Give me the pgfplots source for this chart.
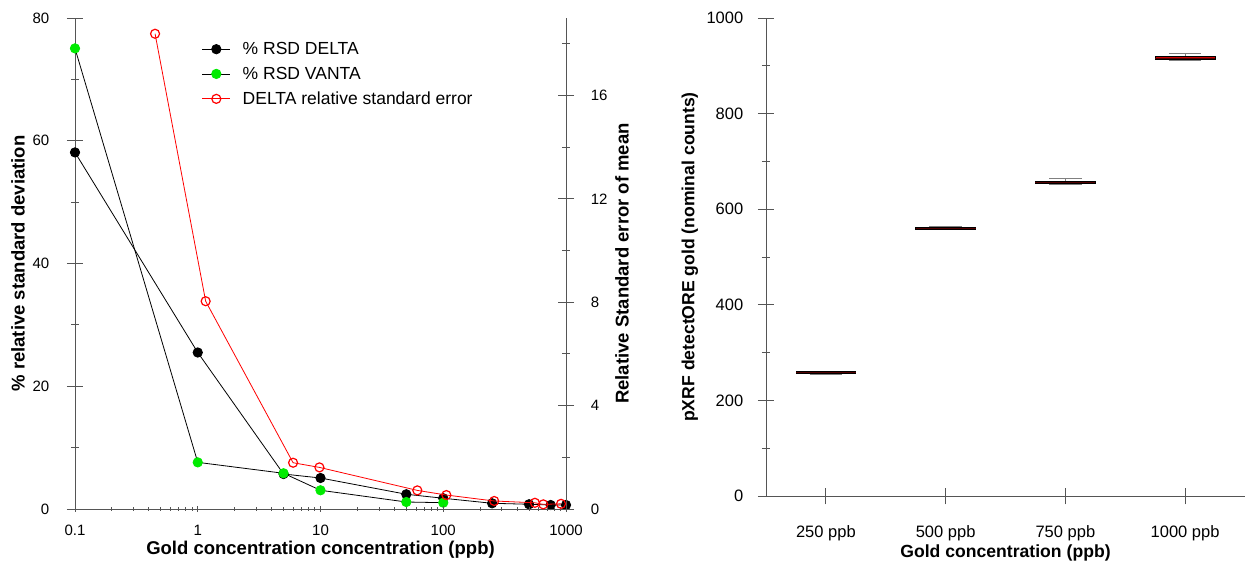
\documentclass[border=0pt]{standalone}
\usepackage{fontspec}
\setmainfont{Liberation Sans}
\usepackage{pgfplots}
\pgfplotsset{compat=1.18}
\usepgfplotslibrary{statistics}
\definecolor{vgreen}{RGB}{0,235,0}
\definecolor{axgray}{RGB}{85,85,85}
\definecolor{boxred}{RGB}{205,0,0}
\pgfplotsset{
  base/.style={
    scale only axis,
    /pgf/number format/assume math mode=true,
    /pgf/number format/1000 sep={},
    scaled ticks=false,
    tick style={axgray, line width=0.9pt},
    tick align=outside,
  },
  nodash/.style={
    axis line style={-, axgray, line width=0.9pt},
    every outer x axis line/.append style={-},
    every outer y axis line/.append style={-},
    every inner x axis line/.append style={-},
    every inner y axis line/.append style={-},
  },
}
\newcommand{\lefttick}{\fontsize{15}{17}\selectfont}
\newcommand{\righttick}{\fontsize{16.5}{19}\selectfont}
\newcommand{\lefttitle}{\fontsize{18.5}{21}\selectfont\bfseries}
\newcommand{\righttitle}{\fontsize{17.6}{20}\selectfont\bfseries}
\begin{document}
\begin{tikzpicture}
\useasboundingbox (0,0) rectangle (1245pt,562pt);
% ---- left chart: left y axis with DELTA and VANTA RSD
\begin{axis}[base, at={(75pt,53pt)}, anchor=south west,
  width=491pt, height=491pt,
  xmode=log, xmin=0.1, xmax=1000, ymin=0, ymax=80,
  axis y line=left, axis x line=none,
  ytick={0,20,40,60,80}, minor ytick={10,30,50,70},
  major tick length=16.5pt, minor tick length=8pt,
  yticklabel style={font=\lefttick, black, xshift=-14pt},
  every axis y label/.style={at={(axis description cs:-0.116,0.5)}, rotate=90, anchor=center, font=\lefttitle, black},
  ylabel={\% relative standard deviation},
  clip=false,
  legend style={at={(rel axis cs:0.252,0.959)}, anchor=north west,
    draw=none, fill=none, font=\fontsize{17.5}{20}\selectfont,
    row sep=7pt, cells={anchor=west}},
  legend image code/.code={\draw[mark repeat=2,mark phase=2,#1] plot coordinates {(0pt,0pt) (14pt,0pt) (28pt,0pt)}; \path (38pt,0pt);},
  nodash]
\addplot[black, line width=0.8pt, mark=*, mark size=4.7pt, mark options={fill=black, draw=black}]
  coordinates {(0.1,58.1) (1,25.5) (5,5.7) (10,5.05) (50,2.4) (100,1.75) (250,0.93) (500,0.77) (750,0.65) (1000,0.65)};
\addlegendentry{\% RSD DELTA}
\addplot[black, line width=0.8pt, mark=*, mark size=4.7pt, mark options={fill=vgreen, draw=vgreen}]
  coordinates {(0.1,75.05) (1,7.6) (5,5.82) (10,3.05) (50,1.14) (100,1.03)};
\addlegendentry{\% RSD VANTA}
\addlegendimage{red, line width=0.8pt, mark=o, mark size=4.5pt, mark options={line width=1.2pt}}
\addlegendentry{DELTA relative standard error}
\end{axis}
% ---- left chart: bottom log x axis
\begin{axis}[base, at={(75pt,53pt)}, anchor=south west,
  width=491pt, height=491pt,
  xmode=log, xmin=0.1, xmax=1000, ymin=0, ymax=80,
  axis x line=bottom, axis y line=none,
  xtick={0.1,1,10,100,1000}, xticklabels={0.1,1,10,100,1000},
  minor xtick={0.2,0.3,0.4,0.5,0.6,0.7,0.8,0.9,2,3,4,5,6,7,8,9,20,30,40,50,60,70,80,90,200,300,400,500,600,700,800,900},
  major tick length=5.5pt, minor tick length=3.3pt,
  xticklabel style={font=\lefttick, black, yshift=-9.5pt},
  every axis x label/.style={at={(axis description cs:0.5,-0.0835)}, anchor=center, font=\lefttitle, black},
  xlabel={Gold concentration concentration (ppb)},
  nodash]
\end{axis}
% ---- left chart: right y axis with DELTA relative standard error
\begin{axis}[base, at={(75pt,53pt)}, anchor=south west,
  width=491pt, height=491pt,
  xmode=log, xmin=0.1, xmax=1000, ymin=0, ymax=19,
  axis y line=right, axis x line=none,
  ytick={0,4,8,12,16}, minor ytick={2,6,10,14,18},
  major tick length=16.5pt, minor tick length=8pt,
  yticklabel style={font=\lefttick, black, xshift=13pt},
  every axis y label/.style={at={(axis description cs:1.114,0.5)}, rotate=90, anchor=center, font=\lefttitle, black},
  ylabel={Relative Standard error of mean},
  clip=false,
  nodash]
\addplot[red, line width=0.8pt, mark=o, mark size=4.5pt, mark options={line width=1.2pt}]
  coordinates {(0.449,18.39) (1.16,8.04) (5.98,1.79) (9.8,1.61) (61.5,0.72) (106,0.54) (260,0.31) (558,0.24) (653,0.18) (911,0.2)};
\end{axis}
% ---- right chart: box plots
\begin{axis}[base, at={(766pt,66pt)}, anchor=south west,
  width=479pt, height=478pt,
  xmin=0.5, xmax=4.5, ymin=0, ymax=1000,
  axis x line=bottom, axis y line=left,
  xtick={1,2,3,4}, xticklabels={250 ppb,500 ppb,750 ppb,1000 ppb},
  ytick={0,200,400,600,800,1000}, minor ytick={100,300,500,700,900},
  major tick length=16.5pt, minor tick length=8.5pt,
  xticklabel style={font=\righttick, black, yshift=-18pt},
  yticklabel style={font=\righttick, black, xshift=-11pt},
  every axis x label/.style={at={(axis description cs:0.5,-0.12)}, anchor=center, font=\righttitle, black},
  every axis y label/.style={at={(axis description cs:-0.1587,0.5)}, rotate=90, anchor=center, font=\righttitle, black},
  xlabel={Gold concentration (ppb)},
  ylabel={pXRF detectORE gold (nominal counts)},
  boxplot/draw direction=y,
  boxplot/every box/.style={draw=black, fill=boxred, line width=0.8pt},
  boxplot/every whisker/.style={draw=gray, line width=0.9pt},
  boxplot/every median/.style={draw=black!60!boxred, line width=0.8pt},
  nodash]
\addplot[boxplot prepared={draw position=1, lower whisker=254.5, lower quartile=257.5, median=259, upper quartile=260.5, upper whisker=261.5, box extend=0.5, whisker extend=0.27}] coordinates {};
\addplot[boxplot prepared={draw position=2, lower whisker=557.5, lower quartile=558, median=559.5, upper quartile=561, upper whisker=564, box extend=0.5, whisker extend=0.27}] coordinates {};
\addplot[boxplot prepared={draw position=3, lower whisker=652.7, lower quartile=653.5, median=656, upper quartile=659, upper whisker=664.6, box extend=0.5, whisker extend=0.27}] coordinates {};
\addplot[boxplot prepared={draw position=4, lower whisker=911.5, lower quartile=912.8, median=916.5, upper quartile=920.5, upper whisker=926, box extend=0.5, whisker extend=0.27}] coordinates {};
\end{axis}
\end{tikzpicture}
\end{document}
